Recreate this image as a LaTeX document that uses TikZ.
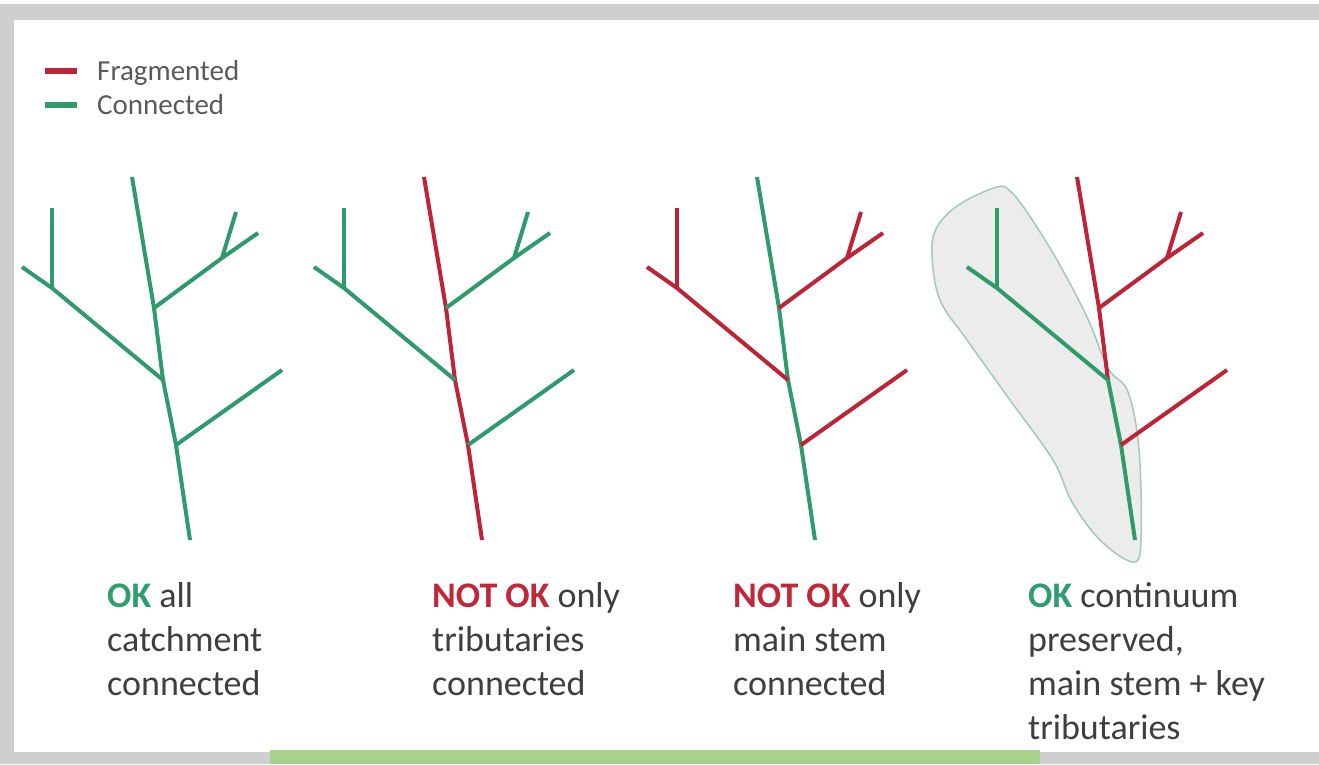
\documentclass[tikz,border=0pt]{standalone}
\usepackage{fontspec}
\setmainfont{Carlito}
\definecolor{frame}{HTML}{CFCFCF}
\definecolor{barg}{HTML}{A9D18E}
\definecolor{rivg}{HTML}{2F9A6A}
\definecolor{rivr}{HTML}{BE2438}
\definecolor{txt}{HTML}{3F3F3F}
\definecolor{legtxt}{HTML}{5A5A5A}
\definecolor{okg}{HTML}{2E9E6E}
\definecolor{nokr}{HTML}{C0283A}
\definecolor{catchfill}{HTML}{ECECEC}
\definecolor{catchline}{HTML}{A5C9B4}
\tikzset{
  river/.style={line width=4pt, line join=round},
  lab/.style={anchor=base west, inner sep=0pt, text=txt, font=\fontsize{36}{44}\selectfont},
  leg/.style={anchor=base west, inner sep=0pt, text=legtxt, font=\fontsize{29}{34}\selectfont},
  legbar/.style={line width=6pt}
}
% #1 xshift, #2 upper stem, #3 lower stem, #4 left branch, #5 upper right, #6 lower right
\newcommand\rivertree[6]{%
  \begin{scope}[xshift=#1pt]
    \coordinate (top) at (132,177);
    \coordinate (j1) at (154,308);
    \coordinate (j2) at (163,380);
    \coordinate (j3) at (176,445);
    \coordinate (bot) at (190,540);
    \draw[river, #2] (top) -- (j1) -- (j2);
    \draw[river, #3] (j2) -- (j3) -- (bot);
    \draw[river, #5] (j1) -- (222,258) -- (258,233);
    \draw[river, #5] (222,258) -- (236,212);
    \draw[river, #4] (j2) -- (52,288) -- (22,267);
    \draw[river, #4] (52,288) -- (52,208);
    \draw[river, #6] (j3) -- (282,370);
  \end{scope}}
\begin{document}
\begin{tikzpicture}[x=1pt,y=-1pt]
\useasboundingbox (0,0) rectangle (1319,764);
\fill[frame] (0,0) rectangle (1319,764);
\fill[white] (0,0) rectangle (1319,4);
\fill[white] (14,20) rectangle (1319,752);
\fill[barg] (270,750) rectangle (1040,764);

% legend
\draw[legbar, rivr] (45,71) -- (77,71);
\draw[legbar, rivg] (45,105) -- (77,105);
\node[leg] (legf) at (97,80) {Fragmented};
\node[leg] (legc) at (97,114) {Connected};

% catchment
\filldraw[fill=catchfill, draw=catchline, line width=1.5pt]
  plot[smooth cycle, tension=0.6] coordinates {
  (997,187) (960,204) (937,227) (932,255) (940,300) (967,340) (1010,400)
  (1053,460) (1072,502) (1100,540) (1133,562) (1141,540) (1139,450)
  (1128,392) (1108,368) (1087,317) (1057,260) (1027,212) (1010,191)};

\rivertree{0}{rivg}{rivg}{rivg}{rivg}{rivg}
\rivertree{292}{rivr}{rivr}{rivg}{rivg}{rivg}
\rivertree{625}{rivg}{rivg}{rivr}{rivr}{rivr}
\rivertree{945}{rivr}{rivg}{rivg}{rivr}{rivr}

% labels
\node[lab] (a1) at (107,607) {\textcolor{okg}{\textbf{OK}} all};
\node[lab] (a2) at (107,651) {catchment};
\node[lab] (a3) at (107,695) {connected};

\node[lab] (b1) at (432,607) {\textcolor{nokr}{\textbf{NOT OK}} only};
\node[lab] (b2) at (432,651) {tributaries};
\node[lab] (b3) at (432,695) {connected};

\node[lab] (c1) at (733,607) {\textcolor{nokr}{\textbf{NOT OK}} only};
\node[lab] (c2) at (733,651) {main stem};
\node[lab] (c3) at (733,695) {connected};

\node[lab] (d1) at (1028,607) {\textcolor{okg}{\textbf{OK}} continuum};
\node[lab] (d2) at (1028,651) {preserved,};
\node[lab] (d3) at (1028,695) {main stem + key};
\node[lab] (d4) at (1028,739) {tributaries};
\end{tikzpicture}
\end{document}
